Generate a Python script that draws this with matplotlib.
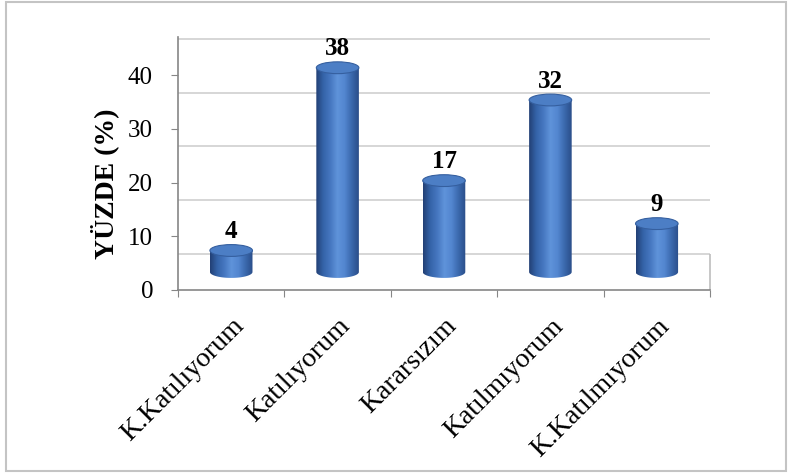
import numpy as np
import matplotlib.pyplot as plt
from matplotlib.patches import Ellipse, Polygon, Rectangle
from matplotlib.colors import LinearSegmentedColormap

plt.rcParams['font.family'] = ['Liberation Serif', 'DejaVu Serif']

# datos
categorias = ['K.Katılıyorum', 'Katılıyorum', 'Kararsızım', 'Katılmıyorum', 'K.Katılmıyorum']
valores = [4, 38, 17, 32, 9]
y_ticks = [0, 10, 20, 30, 40]

fig = plt.figure(figsize=(7.88, 4.73), dpi=100)
W, H = 788, 473
# ejes: y=0 en el pixel 290, 5.375 px por unidad
ax = fig.add_axes([178 / W, (H - 290) / H, 532 / W, 47 * 5.375 / H])
ax.set_xlim(-0.5, 4.5)
ax.set_ylim(0, 47)

fondo = 6.7     # desplazamiento de la pared del fondo
medio = 3.35    # base de los cilindros
ancho = 0.40
alto_elipse = 2.2

# pared del fondo y piso
ax.hlines(np.array(y_ticks) + fondo, -0.5, 4.5, color='#d0d0d0', lw=1.2, zorder=0)
ax.vlines(4.5, 0, fondo, color='#bdbdbd', lw=1.2, zorder=0, clip_on=False)

cmap = LinearSegmentedColormap.from_list(
    'cil', ['#223f74', '#3463a8', '#4677c0', '#5f93da', '#5386d0', '#3a68ac', '#2a4d88'])
grad = np.linspace(0, 1, 256).reshape(1, -1)
t = np.linspace(0, np.pi, 60)

for i, v in enumerate(valores):
    x0, x1 = i - ancho / 2, i + ancho / 2
    tope = medio + v
    # cuerpo: rectangulo + media elipse inferior
    arco = np.column_stack([i - ancho / 2 * np.cos(t), medio - alto_elipse / 2 * np.sin(t)])
    pts = np.vstack([arco, [[x1, tope], [x0, tope]]])
    cuerpo = Polygon(pts, closed=True, facecolor='none', edgecolor='none')
    ax.add_patch(cuerpo)
    im = ax.imshow(grad, cmap=cmap, aspect='auto', extent=[x0, x1, medio - alto_elipse, tope],
                   zorder=2, interpolation='bilinear')
    im.set_clip_path(cuerpo)
    # tapa
    ax.add_patch(Ellipse((i, tope), ancho, alto_elipse, facecolor='#4c7ec5',
                         edgecolor='#355f9f', lw=0.8, zorder=3))
    ax.text(i, tope + alto_elipse / 2 + 1.2, str(v), ha='center', va='baseline',
            fontsize=18, fontweight='bold', zorder=4)

ax.set_xticks(np.arange(-0.5, 5, 1))
ax.set_xticklabels([])
ax.set_xticks(np.arange(len(categorias)), minor=True)
ax.set_xticklabels(categorias, minor=True, rotation=45, ha='right', va='top',
                   rotation_mode='anchor', fontsize=20)
ax.tick_params(axis='x', which='minor', length=0, pad=17)
ax.tick_params(axis='x', which='major', length=5, color='#868686')

ax.set_yticks(y_ticks)
ax.tick_params(axis='y', length=5, color='#868686', labelsize=18, pad=13)

for s in ['top', 'right']:
    ax.spines[s].set_visible(False)
for s in ['left', 'bottom']:
    ax.spines[s].set_color('#868686')
    ax.spines[s].set_linewidth(1.2)

fig.text(105 / W, 1 - 184 / H, 'YÜZDE (%)', rotation=90, ha='center', va='center',
         fontsize=20, fontweight='bold')

fig.patches.append(Rectangle((6 / W, 2 / H), 780 / W, 469 / H, transform=fig.transFigure,
                             fill=False, edgecolor='#c4c4c4', lw=1.5))

fig.savefig('out.png', dpi=100)
